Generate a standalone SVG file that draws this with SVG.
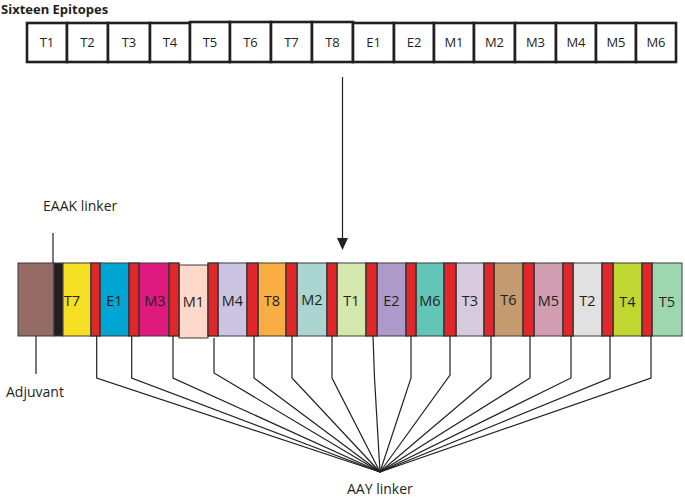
<svg xmlns="http://www.w3.org/2000/svg" width="685" height="499" viewBox="0 0 685 499">
<style>
text{font-family:"Open Sans","Liberation Sans",sans-serif;fill:#231F20}
.title{font-size:13px;font-weight:bold}
.tb rect{fill:#fff;stroke:#231F20;stroke-width:2.6}
.tb text{font-size:13px;text-anchor:middle}
.seg rect{stroke:#3a3a3a;stroke-width:1}
.seg text{font-size:14.5px;text-anchor:middle}
.lk{fill:#E1272A;stroke:#333;stroke-width:1.4}
.lbl{font-size:14px}
.conn{fill:none;stroke:#231F20;stroke-width:1.2}
</style>
<rect width="685" height="499" fill="#fff"/>
<text class="title" x="1" y="14">Sixteen Epitopes</text>

<g id="top-epitopes" class="tb">
<g id="top-T1"><rect x="27" y="23" width="40" height="39"/><text x="47" y="47">T1</text></g>
<g id="top-T2"><rect x="67" y="23" width="41" height="39"/><text x="87.5" y="47">T2</text></g>
<g id="top-T3"><rect x="108" y="23" width="42" height="39"/><text x="129" y="47">T3</text></g>
<g id="top-T4"><rect x="150" y="23" width="40" height="39"/><text x="170" y="47">T4</text></g>
<g id="top-T5"><rect x="190" y="22" width="40" height="40"/><text x="210" y="47">T5</text></g>
<g id="top-T6"><rect x="230" y="22" width="41" height="40"/><text x="250.5" y="47">T6</text></g>
<g id="top-T7"><rect x="271" y="22" width="41" height="40"/><text x="291.5" y="47">T7</text></g>
<g id="top-T8"><rect x="312" y="22" width="41" height="40"/><text x="332.5" y="47">T8</text></g>
<g id="top-E1"><rect x="353" y="23" width="41" height="39"/><text x="373.5" y="47">E1</text></g>
<g id="top-E2"><rect x="394" y="23" width="40" height="39"/><text x="414" y="47">E2</text></g>
<g id="top-M1"><rect x="434" y="23" width="40" height="39"/><text x="454" y="47">M1</text></g>
<g id="top-M2"><rect x="474" y="23" width="41" height="39"/><text x="494.5" y="47">M2</text></g>
<g id="top-M3"><rect x="515" y="23" width="41" height="39"/><text x="535.5" y="47">M3</text></g>
<g id="top-M4"><rect x="556" y="23" width="40" height="39"/><text x="576" y="47">M4</text></g>
<g id="top-M5"><rect x="596" y="23" width="40" height="39"/><text x="616" y="47">M5</text></g>
<g id="top-M6"><rect x="636" y="23" width="40" height="39"/><text x="656" y="47">M6</text></g>
</g>

<g id="construct" class="seg">
<g id="adjuvant"><rect x="18" y="263" width="36" height="73" fill="#946B65"/></g>
<g id="eaak"><rect x="54" y="263" width="9" height="73" fill="#231F20"/></g>
<g id="seg-T7"><rect x="63" y="263" width="28" height="73" fill="#F6DF22"/><text x="72" y="306">T7</text></g>
<g id="seg-E1"><rect x="100" y="263" width="29" height="73" fill="#00A5D3"/><text x="114.5" y="306">E1</text></g>
<g id="seg-M3"><rect x="139" y="263" width="30" height="73" fill="#DF1A7F"/><text x="155" y="306">M3</text></g>
<g id="seg-M1"><rect x="179" y="265" width="29" height="73" fill="#FDD8CB" stroke="#444" stroke-width="1.4"/><text x="193.5" y="307">M1</text></g>
<g id="seg-M4"><rect x="218" y="263" width="29" height="73" fill="#CBC5E3"/><text x="232.5" y="306">M4</text></g>
<g id="seg-T8"><rect x="258" y="263" width="28" height="73" fill="#F8AE42"/><text x="272" y="306">T8</text></g>
<g id="seg-M2"><rect x="297" y="263" width="30" height="73" fill="#ABD5D1"/><text x="312" y="305">M2</text></g>
<g id="seg-T1"><rect x="337" y="263" width="29" height="73" fill="#D4E8AE"/><text x="351.5" y="306">T1</text></g>
<g id="seg-E2"><rect x="377" y="263" width="29" height="73" fill="#AE9ACA"/><text x="391.5" y="306">E2</text></g>
<g id="seg-M6"><rect x="416" y="263" width="28" height="73" fill="#63C5B8"/><text x="430" y="306">M6</text></g>
<g id="seg-T3"><rect x="456" y="263" width="28" height="73" fill="#D7CADD"/><text x="470" y="306">T3</text></g>
<g id="seg-T6"><rect x="494" y="263" width="29" height="73" fill="#C59A6F"/><text x="508.5" y="305">T6</text></g>
<g id="seg-M5"><rect x="534" y="263" width="29" height="73" fill="#D09EB0"/><text x="548.5" y="306">M5</text></g>
<g id="seg-T2"><rect x="573" y="263" width="29" height="73" fill="#E1E1E3"/><text x="587.5" y="306">T2</text></g>
<g id="seg-T4"><rect x="613" y="263" width="29" height="73" fill="#C0D631"/><text x="627.5" y="307">T4</text></g>
<g id="seg-T5"><rect x="652" y="263" width="30" height="73" fill="#9ED7AF"/><text x="667" y="307">T5</text></g>
</g>

<g id="aay-linkers">
<rect class="lk" x="91" y="263" width="9" height="73"/>
<rect class="lk" x="129" y="263" width="10" height="73"/>
<rect class="lk" x="169" y="263" width="10" height="73"/>
<rect class="lk" x="208" y="263" width="10" height="73"/>
<rect class="lk" x="247" y="263" width="11" height="73"/>
<rect class="lk" x="286" y="263" width="11" height="73"/>
<rect class="lk" x="327" y="263" width="10" height="73"/>
<rect class="lk" x="366" y="263" width="11" height="73"/>
<rect class="lk" x="406" y="263" width="10" height="73"/>
<rect class="lk" x="444" y="263" width="12" height="73"/>
<rect class="lk" x="484" y="263" width="10" height="73"/>
<rect class="lk" x="523" y="263" width="11" height="73"/>
<rect class="lk" x="563" y="263" width="10" height="73"/>
<rect class="lk" x="602" y="263" width="11" height="73"/>
<rect class="lk" x="642" y="263" width="10" height="73"/>
</g>

<g id="connectors" class="conn">
<line x1="342.5" y1="77" x2="342.5" y2="240"/>
<polygon points="337,238 348,238 342.5,250" fill="#231F20" stroke="none"/>
<line x1="53" y1="233" x2="53" y2="263"/>
<line x1="36" y1="336" x2="36" y2="374"/>
<polyline points="96.7,336 96.7,378 380,472"/>
<polyline points="131.7,336 131.7,378 380,472"/>
<polyline points="173,336 173,378 380,472"/>
<polyline points="214,338 214,373 380,472"/>
<polyline points="254,336 254,378 380,472"/>
<polyline points="292,336 292,378 380,472"/>
<polyline points="332,336 332,378 380,472"/>
<polyline points="373,336 374.5,378 380,472"/>
<polyline points="411,336 411,378 380,472"/>
<polyline points="450,336 450,375 380,472"/>
<polyline points="491,336 491,378 380,472"/>
<polyline points="530,336 530,378 380,472"/>
<polyline points="571,336 571,378 380,472"/>
<polyline points="610,336 610,378 380,472"/>
<polyline points="651,336 651,378 380,472"/>
</g>

<text class="lbl" x="43" y="211">EAAK linker</text>
<text class="lbl" x="6" y="397">Adjuvant</text>
<text class="lbl" x="347" y="494">AAY linker</text>
</svg>
